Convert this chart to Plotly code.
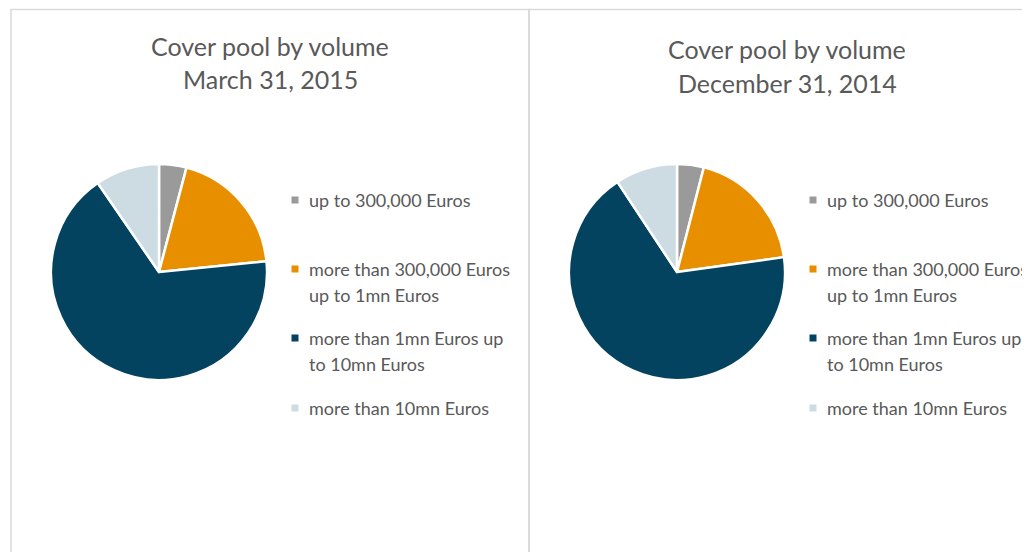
import plotly.graph_objects as go

# data
CATEGORIES = [
    "up to 300,000 Euros",
    "more than 300,000 Euros<br>up to 1mn Euros",
    "more than 1mn Euros up<br>to 10mn Euros",
    "more than 10mn Euros",
]
VALUES_MAR_2015 = [4.1, 19.3, 67.0, 9.6]
VALUES_DEC_2014 = [4.0, 18.8, 67.9, 9.3]
TITLES = [["Cover pool by volume", "March 31, 2015"],
          ["Cover pool by volume", "December 31, 2014"]]
COLORS = ["#9A9A9A", "#E88F00", "#03435F", "#CDDBE2"]

W, H = 1030, 552
OFFSET = 8  # page body margin
FONT = "Lato"
TEXT_COLOR = "#595959"


def px(x):
    return (x - OFFSET) / W


def py(y):
    return 1 - (y - OFFSET) / H


fig = go.Figure()

# panel layout (pixels in the page): pie center x, title center x, legend x, title y
panels = [
    dict(values=VALUES_MAR_2015, cx=159, tx=270, lx=295, ty=(46, 79)),
    dict(values=VALUES_DEC_2014, cx=677, tx=787, lx=813, ty=(49, 83)),
]
CY, R = 272, 108
LEGEND_Y = [200, 269, 338, 408]
LINE_GAP = 26

for p, title in zip(panels, TITLES):
    fig.add_trace(go.Pie(
        labels=[c.replace("<br>", " ") for c in CATEGORIES],
        values=p["values"],
        sort=False,
        direction="clockwise",
        rotation=0,
        textinfo="none",
        hoverinfo="label+percent",
        marker=dict(colors=COLORS, line=dict(color="white", width=2.5)),
        domain=dict(x=[px(p["cx"] - R), px(p["cx"] + R)],
                    y=[py(CY + R), py(CY - R)]),
        showlegend=False,
    ))
    # titles
    for line, y in zip(title, p["ty"]):
        fig.add_annotation(x=px(p["tx"]), y=py(y), xref="paper", yref="paper",
                           text=line, showarrow=False, xanchor="center", yanchor="middle",
                           font=dict(family=FONT, size=25, color=TEXT_COLOR))
    # legend
    for cat, col, y0 in zip(CATEGORIES, COLORS, LEGEND_Y):
        fig.add_shape(type="rect", xref="paper", yref="paper",
                      x0=px(p["lx"] - 3.5), x1=px(p["lx"] + 3.5),
                      y0=py(y0 + 3.5), y1=py(y0 - 3.5),
                      fillcolor=col, line=dict(width=0))
        for k, line in enumerate(cat.split("<br>")):
            fig.add_annotation(x=px(p["lx"] + 12), y=py(y0 + k * LINE_GAP),
                               xref="paper", yref="paper", text=line, showarrow=False,
                               xanchor="left", yanchor="middle",
                               font=dict(family=FONT, size=18, color=TEXT_COLOR))

# panel borders
for x0, x1 in [(11, 529), (529, 1046)]:
    fig.add_shape(type="rect", xref="paper", yref="paper",
                  x0=px(x0), x1=px(x1), y0=py(570), y1=py(9.5),
                  line=dict(color="#D9D9D9", width=1.5), fillcolor="rgba(0,0,0,0)")

fig.update_layout(
    width=W, height=H,
    margin=dict(l=0, r=0, t=0, b=0),
    paper_bgcolor="white",
    plot_bgcolor="white",
    showlegend=False,
)

fig.write_html("out.html")
